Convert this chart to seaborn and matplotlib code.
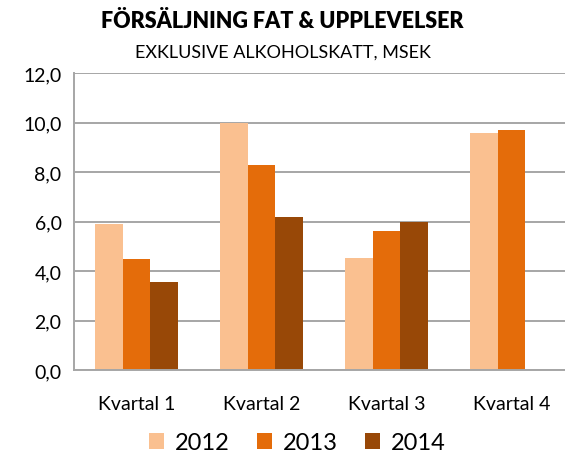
import matplotlib
matplotlib.use("Agg")
import matplotlib.pyplot as plt
import seaborn as sns
import pandas as pd
import numpy as np
from matplotlib.ticker import FuncFormatter
from matplotlib.patches import Patch

quarters = ["Kvartal 1", "Kvartal 2", "Kvartal 3", "Kvartal 4"]
years = ["2012", "2013", "2014"]
v2012 = [5.9, 10.0, 4.55, 9.6]
v2013 = [4.5, 8.3, 5.62, 9.72]
v2014 = [3.56, 6.17, 5.99, np.nan]
colors = ["#FAC090", "#E46C0A", "#984807"]

df = pd.DataFrame({
    "Kvartal": quarters * 3,
    "År": [y for y in years for _ in quarters],
    "Värde": v2012 + v2013 + v2014,
})

sns.set_theme(style="white")
plt.rcParams["font.family"] = ["Lato", "DejaVu Sans"]
plt.rcParams["text.color"] = "#000000"

fig = plt.figure(figsize=(5.65, 4.56), dpi=100)
ax = fig.add_axes([74/565, 1 - 371/456, 500/565, (371 - 74.3)/456])

sns.barplot(data=df, x="Kvartal", y="Värde", hue="År", palette=colors,
            width=0.67, gap=0, saturation=1, ax=ax, legend=False, linewidth=0)

ax.set_ylim(0, 12)
ax.set_xlim(-0.5, 3.5)
ax.set_yticks(np.arange(0, 12.1, 2))
ax.yaxis.set_major_formatter(FuncFormatter(lambda v, p: f"{v:.1f}".replace(".", ",")))
ax.grid(axis="y", color="#A6A6A6", linewidth=1.4)
ax.set_axisbelow(True)
for s in ["top", "right"]:
    ax.spines[s].set_visible(False)
for s in ["left", "bottom"]:
    ax.spines[s].set_color("#A6A6A6")
    ax.spines[s].set_linewidth(1.4)
ax.set_xlabel("")
ax.set_ylabel("")
ax.tick_params(axis="both", length=0, labelsize=14, colors="#000000")
ax.tick_params(axis="x", pad=18)
ax.tick_params(axis="y", pad=9)

fig.text(0.5, 1 - 22/456, "FÖRSÄLJNING FAT & UPPLEVELSER", ha="center", va="center",
         fontsize=15.5, fontweight="heavy", color="#000000")
fig.text(0.5, 1 - 53/456, "EXKLUSIVE ALKOHOLSKATT, MSEK", ha="center", va="center",
         fontsize=13, color="#000000")

handles = [Patch(facecolor=c, edgecolor="none") for c in colors]
fig.legend(handles, years, loc="center", bbox_to_anchor=(297/565, 1 - 444/456), ncol=3,
           frameon=False, fontsize=17, handlelength=0.65, handleheight=0.65,
           handletextpad=0.45, columnspacing=1.15)

fig.savefig("out.png", dpi=100)
